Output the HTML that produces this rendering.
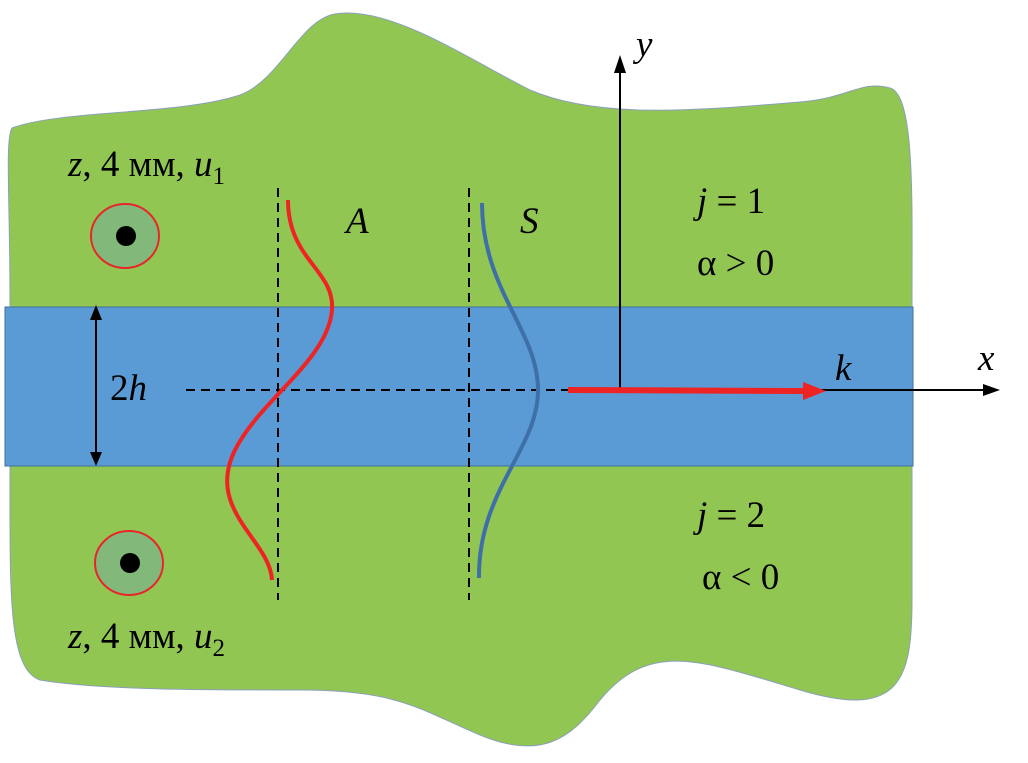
<!DOCTYPE html>
<html><head><meta charset="utf-8"><style>
html,body{margin:0;padding:0;background:#fff;}
svg{display:block;}
text{font-family:"Liberation Serif",serif;font-size:37px;fill:#000;}
</style></head><body>
<svg width="1028" height="763" viewBox="0 0 1028 763" xmlns="http://www.w3.org/2000/svg">
<path d="M12,128 C60,110 180,115 240,95 C280,80 300,20 335,14 C390,5 470,60 530,90 C600,120 700,110 800,102 C850,98 860,80 890,88 C915,95 912,200 912,300 L912,600 C912,680 900,720 800,690 C700,660 650,640 600,700 C570,740 540,760 480,735 C420,710 400,690 300,690 C200,690 100,690 40,680 C10,670 10,600 10,500 L10,300 C10,200 5,140 12,128 Z" fill="#92c653" stroke="#8aa0b8" stroke-width="1"/>
<rect x="5" y="307" width="908" height="159" fill="#5b9bd5" stroke="#41719c" stroke-width="1"/>
<ellipse cx="125" cy="236" rx="34" ry="32" fill="#82b97a" stroke="#e8262a" stroke-width="2"/>
<circle cx="126" cy="236" r="10" fill="#000"/>
<ellipse cx="129" cy="563" rx="34" ry="32" fill="#82b97a" stroke="#e8262a" stroke-width="2"/>
<circle cx="130" cy="563" r="10" fill="#000"/>
<g stroke="#000" stroke-width="2" stroke-dasharray="9,6" fill="none">
<line x1="186" y1="390" x2="570" y2="390"/>
<line x1="278" y1="188" x2="278" y2="600"/>
<line x1="469" y1="188" x2="469" y2="600"/>
</g>
<path d="M288,200 C288,260 335,270 332,310 C328,360 260,400 235,450 C205,510 270,540 272,580" fill="none" stroke="#ee2424" stroke-width="4"/>
<path d="M482,203 C482,290 538,330 538,390 C538,450 478,490 479,578" fill="none" stroke="#3e6fa8" stroke-width="4"/>
<line x1="96" y1="320" x2="96" y2="452" stroke="#000" stroke-width="2"/>
<path d="M96,305 L90,320 L102,320 Z M96,466 L90,452 L102,452 Z" fill="#000"/>
<line x1="820" y1="390" x2="985" y2="390" stroke="#000" stroke-width="2"/>
<path d="M1000,390 L983,384 L983,396 Z" fill="#000"/>
<line x1="620" y1="390" x2="620" y2="72" stroke="#000" stroke-width="2"/>
<path d="M620,55 L614,73 L626,73 Z" fill="#000"/>
<line x1="568" y1="390" x2="805" y2="391" stroke="#ee2424" stroke-width="6"/>
<path d="M826,391 L803,382 L803,400 Z" fill="#ee2424"/>
<text x="68" y="176"><tspan font-style="italic">z</tspan>, 4 мм, <tspan font-style="italic">u</tspan><tspan font-size="25" dy="8">1</tspan></text>
<text x="68" y="648"><tspan font-style="italic">z</tspan>, 4 мм, <tspan font-style="italic">u</tspan><tspan font-size="25" dy="8">2</tspan></text>
<text x="110" y="400"><tspan>2</tspan><tspan font-style="italic">h</tspan></text>
<text x="346" y="233" font-style="italic">A</text>
<text x="520" y="233" font-style="italic">S</text>
<text x="697" y="213"><tspan font-style="italic">j</tspan> = 1</text>
<text x="697" y="275">α &gt; 0</text>
<text x="697" y="527"><tspan font-style="italic">j</tspan> = 2</text>
<text x="702" y="589">α &lt; 0</text>
<text x="835" y="380" font-style="italic">k</text>
<text x="978" y="370" font-style="italic">x</text>
<text x="636" y="56" font-style="italic">y</text>
</svg>
</body></html>
